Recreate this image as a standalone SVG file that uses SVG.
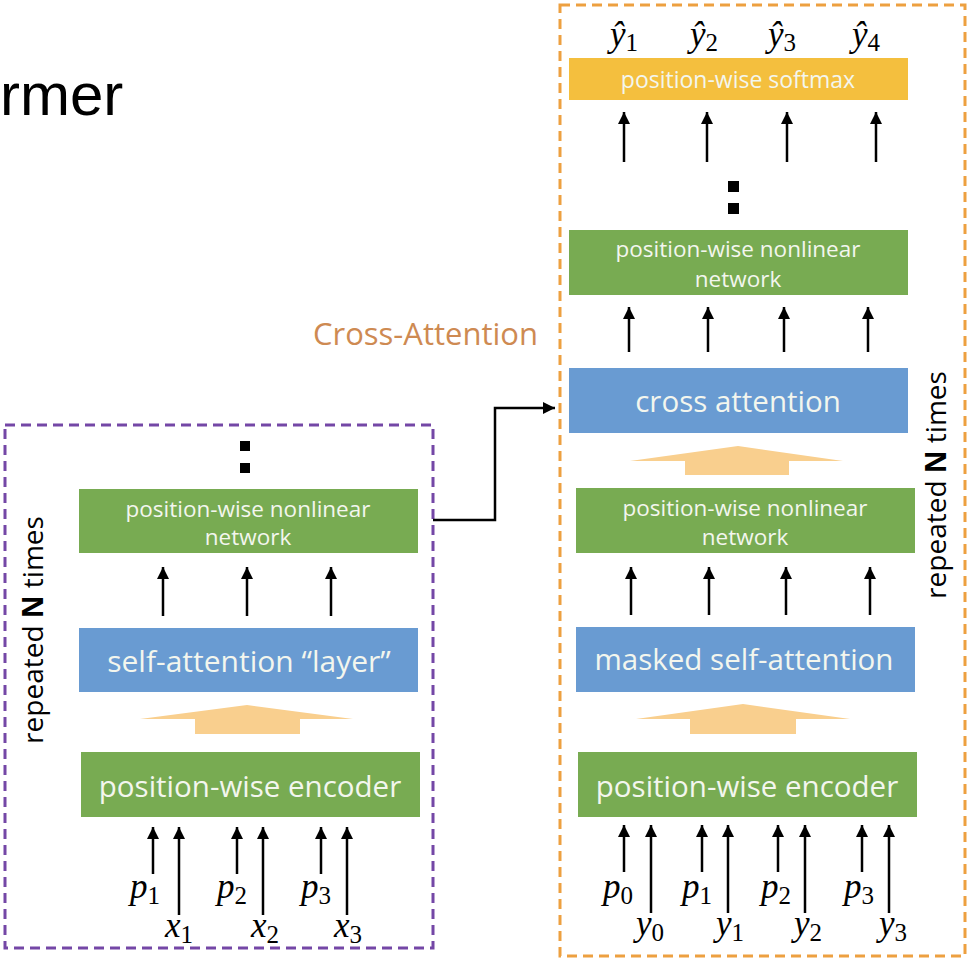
<svg xmlns="http://www.w3.org/2000/svg" width="972" height="960" viewBox="0 0 972 960">
<defs>
<marker id="ah" markerUnits="userSpaceOnUse" markerWidth="12" markerHeight="14" refX="12" refY="6" orient="auto">
<path d="M0,0 L12,6 L0,12 z" fill="#000"/>
</marker>
<style>
.g{fill:#78AB52}
.b{fill:#699BD2}
.y{fill:#F4BF3E}
.oa{fill:#F9CF8E}
.bt{font-family:"Open Sans","Noto Sans",sans-serif;fill:#F3F6EE;text-anchor:middle}
.ar{stroke:#000;stroke-width:2.5;fill:none;marker-end:url(#ah)}
.m{font-family:"Liberation Serif","DejaVu Serif",serif;font-style:italic;font-size:35px;fill:#000}
.s{font-style:normal;font-size:25px}
.rep{font-family:"Open Sans","Noto Sans",sans-serif;font-size:28px;fill:#000;text-anchor:middle}
.dot{fill:#000}
</style>
</defs>
<rect width="972" height="960" fill="#fff"/>

<text x="0" y="115" font-family="'Liberation Sans',Arial,sans-serif" font-size="60" fill="#000">rmer</text>
<text x="538" y="345" font-family="'Open Sans','Noto Sans',sans-serif" font-size="31" fill="#CE8A52" text-anchor="end">Cross-Attention</text>

<g id="encoder-frame">
<rect x="5" y="425" width="428" height="523" fill="none" stroke="#7447A6" stroke-width="3" stroke-dasharray="10,6"/>
<text class="rep" transform="translate(43,630) rotate(-90)">repeated <tspan font-weight="bold">N</tspan> times</text>
</g>
<g id="decoder-frame">
<rect x="560" y="5" width="405" height="951" fill="none" stroke="#EDA040" stroke-width="3" stroke-dasharray="10,6"/>
<text class="rep" transform="translate(946,485) rotate(-90)">repeated <tspan font-weight="bold">N</tspan> times</text>
</g>

<g id="enc-ffn">
<rect class="g" x="79" y="489" width="339" height="64"/>
<text class="bt" x="248" y="517" font-size="22.5">position-wise nonlinear</text>
<text class="bt" x="248" y="545" font-size="22.5">network</text>
</g>
<g id="enc-dots">
<rect class="dot" x="240" y="441" width="10" height="10"/>
<rect class="dot" x="240" y="463" width="10" height="10"/>
</g>
<g id="enc-self-attn">
<rect class="b" x="79" y="628" width="339" height="64"/>
<text class="bt" x="249" y="672" font-size="30">self-attention “layer”</text>
</g>
<g id="enc-block-arrow">
<polygon class="oa" points="247,705 353,719 300,719 300,734 195,734 195,719 140,719"/>
</g>
<g id="enc-encoder">
<rect class="g" x="81" y="752" width="339" height="65"/>
<text class="bt" x="250" y="797" font-size="29.5">position-wise encoder</text>
</g>
<g id="enc-inputs">
<text class="m" x="130" y="898">p<tspan class="s" dy="6">1</tspan></text>
<text class="m" x="217" y="898">p<tspan class="s" dy="6">2</tspan></text>
<text class="m" x="301" y="898">p<tspan class="s" dy="6">3</tspan></text>
<text class="m" x="165" y="937">x<tspan class="s" dy="6">1</tspan></text>
<text class="m" x="251" y="937">x<tspan class="s" dy="6">2</tspan></text>
<text class="m" x="334" y="937">x<tspan class="s" dy="6">3</tspan></text>
</g>

<g id="dec-softmax">
<rect class="y" x="569" y="58" width="339" height="42"/>
<text class="bt" x="738" y="88" font-size="23">position-wise softmax</text>
</g>
<g id="dec-outputs">
<text class="m" x="610" y="46">ŷ<tspan class="s" dy="5">1</tspan></text>
<text class="m" x="690" y="46">ŷ<tspan class="s" dy="5">2</tspan></text>
<text class="m" x="768" y="46">ŷ<tspan class="s" dy="5">3</tspan></text>
<text class="m" x="852" y="46">ŷ<tspan class="s" dy="5">4</tspan></text>
</g>
<g id="dec-dots">
<rect class="dot" x="728" y="181" width="11" height="11"/>
<rect class="dot" x="728" y="203" width="11" height="11"/>
</g>
<g id="dec-ffn-top">
<rect class="g" x="569" y="230" width="339" height="65"/>
<text class="bt" x="738" y="257" font-size="22.5">position-wise nonlinear</text>
<text class="bt" x="738" y="287" font-size="22.5">network</text>
</g>
<g id="dec-cross-attn">
<rect class="b" x="569" y="368" width="339" height="65"/>
<text class="bt" x="738" y="412" font-size="29.5">cross attention</text>
</g>
<g id="dec-block-arrow-1">
<polygon class="oa" points="738,446 843,461 789,461 789,475 685,475 685,461 630,461"/>
</g>
<g id="dec-ffn">
<rect class="g" x="576" y="488" width="339" height="65"/>
<text class="bt" x="745" y="516" font-size="22.5">position-wise nonlinear</text>
<text class="bt" x="745" y="545" font-size="22.5">network</text>
</g>
<g id="dec-masked-attn">
<rect class="b" x="576" y="627" width="339" height="65"/>
<text class="bt" x="744" y="670" font-size="29.5">masked self-attention</text>
</g>
<g id="dec-block-arrow-2">
<polygon class="oa" points="743,704 850,719 796,719 796,734 690,734 690,719 636,719"/>
</g>
<g id="dec-encoder">
<rect class="g" x="578" y="752" width="339" height="65"/>
<text class="bt" x="747" y="797" font-size="29.5">position-wise encoder</text>
</g>
<g id="dec-inputs">
<text class="m" x="603" y="898">p<tspan class="s" dy="6">0</tspan></text>
<text class="m" x="682" y="898">p<tspan class="s" dy="6">1</tspan></text>
<text class="m" x="761" y="898">p<tspan class="s" dy="6">2</tspan></text>
<text class="m" x="844" y="898">p<tspan class="s" dy="6">3</tspan></text>
<text class="m" x="636" y="935">y<tspan class="s" dy="6">0</tspan></text>
<text class="m" x="716" y="935">y<tspan class="s" dy="6">1</tspan></text>
<text class="m" x="794" y="935">y<tspan class="s" dy="6">2</tspan></text>
<text class="m" x="879" y="935">y<tspan class="s" dy="6">3</tspan></text>
</g>

<g id="connectors">
<path class="ar" d="M163,616 V567"/>
<path class="ar" d="M247,616 V567"/>
<path class="ar" d="M331,616 V567"/>
<path class="ar" d="M153,874 V827"/>
<path class="ar" d="M179,915 V827"/>
<path class="ar" d="M237,874 V827"/>
<path class="ar" d="M263,915 V827"/>
<path class="ar" d="M321,874 V827"/>
<path class="ar" d="M347,915 V827"/>
<path class="ar" d="M624,162 V112"/>
<path class="ar" d="M707,162 V112"/>
<path class="ar" d="M787,162 V112"/>
<path class="ar" d="M876,162 V112"/>
<path class="ar" d="M629,352 V307"/>
<path class="ar" d="M708,352 V307"/>
<path class="ar" d="M784,352 V307"/>
<path class="ar" d="M868,352 V307"/>
<path class="ar" d="M631,615 V567"/>
<path class="ar" d="M709,615 V567"/>
<path class="ar" d="M786,615 V567"/>
<path class="ar" d="M870,615 V567"/>
<path class="ar" d="M624,872 V825"/>
<path class="ar" d="M651,913 V825"/>
<path class="ar" d="M702,872 V825"/>
<path class="ar" d="M728,913 V825"/>
<path class="ar" d="M778,872 V825"/>
<path class="ar" d="M805,913 V825"/>
<path class="ar" d="M862,872 V825"/>
<path class="ar" d="M889,913 V825"/>
<path class="ar" d="M433,520 H495 V408 H555"/>
</g>
</svg>
